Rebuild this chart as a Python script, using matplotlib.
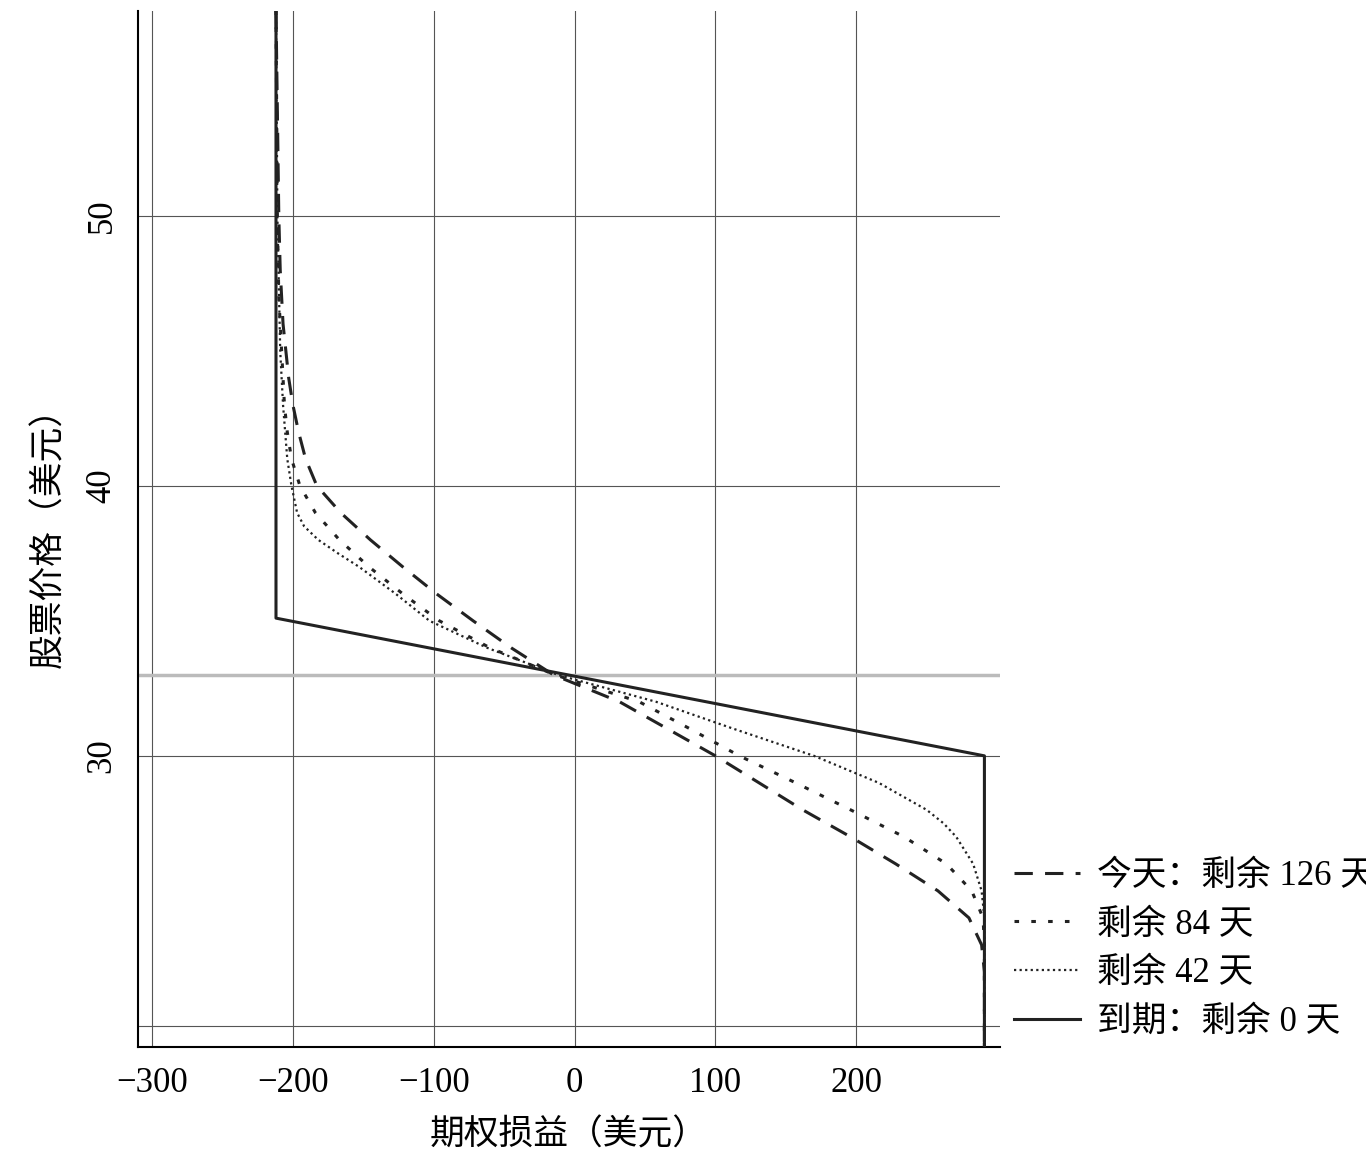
import matplotlib
matplotlib.use("Agg")
import matplotlib.pyplot as plt

plt.rcParams['font.family'] = ['Liberation Serif', 'Noto Sans CJK SC']

# stock price (y) and option P&L (x)
s_126 = [57.6, 50, 48, 46, 45, 44, 43, 42, 41, 40, 39, 38, 37, 36, 35, 34, 33, 32, 31, 30, 29, 28, 27, 26, 25, 24, 23, 22, 19.2]
p_126 = [-212, -210, -209, -207, -205, -203, -200, -196, -191, -183, -166, -145, -122, -98, -72, -45, -15, 32, 66, 100, 131, 162, 196, 228, 258, 280, 289, 291, 291]
s_84 = [57.6, 50, 47, 45, 43, 42, 41, 40, 39, 38, 37, 36, 35, 34, 33, 32, 31, 30, 29, 28, 27, 26, 25, 24, 23, 19.2]
p_84 = [-212, -211, -210, -208, -206, -204, -201, -195, -184, -167, -146, -122, -96, -60, -14, 46, 82, 117, 157, 196, 234, 264, 282, 290, 291, 291]
s_42 = [57.6, 50, 45, 43, 41, 40, 39, 38.5, 38, 37.5, 37, 36, 35, 34, 33, 32, 31, 30, 29, 28, 27.5, 27, 26, 25, 24, 19.2]
p_42 = [-212, -211, -209, -207, -204, -201, -197, -192, -182, -168, -153, -127, -103, -62, -12, 58, 113, 170, 216, 250, 262, 271, 283, 289, 291, 291]
s_exp = [57.6, 35.1, 30, 19.2]
p_exp = [-212, -212, 291, 291]

fig = plt.figure(figsize=(13.66, 11.73), dpi=100)
ax = fig.add_axes([0.101, 0.107, 0.631, 0.884])
ax.set_xlim(-310, 302)
ax.set_ylim(19.2, 57.6)

for xv in [-300, -200, -100, 0, 100, 200]:
    ax.axvline(xv, color='#555555', lw=0.8, zorder=1)
for yv in [20, 30, 40, 50]:
    ax.axhline(yv, color='#555555', lw=0.8, zorder=1)
ax.axhline(33, color='#bbbbbb', lw=2.5, zorder=1)

ax.plot(p_126, s_126, color='#222222', lw=2.2, ls=(0, (6, 4)), label='今天：剩余 126 天', zorder=3)
ax.plot(p_84, s_84, color='#222222', lw=2.2, ls=(0, (1.5, 4)), label='剩余 84 天', zorder=3)
ax.plot(p_42, s_42, color='#222222', lw=1.6, ls=(0, (1, 1.5)), label='剩余 42 天', zorder=3)
ax.plot(p_exp, s_exp, color='#222222', lw=2.2, ls='-', label='到期：剩余 0 天', zorder=4)

ax.set_xticks([-300, -200, -100, 0, 100, 200])
ax.set_xticklabels(['−300', '−200', '−100', '0', '100', '200'])
ax.set_yticks([30, 40, 50])
ax.set_yticklabels(['30', '40', '50'], rotation=90, va='center')
ax.tick_params(labelsize=25, length=0, pad=14)
for sp in ['top', 'right']:
    ax.spines[sp].set_visible(False)
ax.spines['left'].set_linewidth(1.5)
ax.spines['bottom'].set_linewidth(1.5)
ax.set_xlabel('期权损益（美元）', fontsize=25, labelpad=14)
ax.set_ylabel('股票价格（美元）', fontsize=25, labelpad=14)

ax.legend(loc='lower left', bbox_to_anchor=(1.0, -0.005), frameon=False, fontsize=25,
          handlelength=1.9, handletextpad=0.5, labelspacing=0.45, borderaxespad=0)

fig.savefig('out.png', dpi=100)
